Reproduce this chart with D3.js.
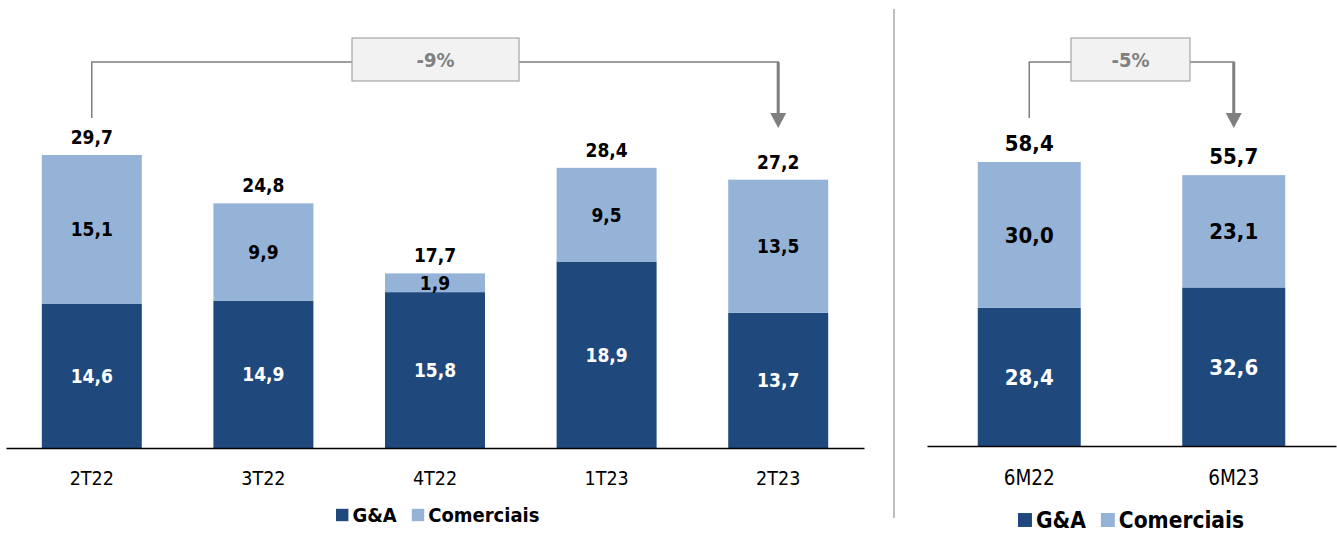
<!DOCTYPE html>
<html><head><meta charset="utf-8">
<script src="https://cdn.jsdelivr.net/npm/d3@7"></script>
<style>
html,body{margin:0;padding:0;background:#fff;}
svg{display:block;}
text{font-family:"DejaVu Sans Condensed","DejaVu Sans",sans-serif;}
</style></head>
<body>
<svg id="chart" width="1337" height="533"></svg>
<script>
// ---- data ----
const quarters = ["2T22","3T22","4T22","1T23","2T23"];
const gaQ = [14.6, 14.9, 15.8, 18.9, 13.7];
const comQ = [15.1, 9.9, 1.9, 9.5, 13.5];
const totalQ = [29.7, 24.8, 17.7, 28.4, 27.2];
const semesters = ["6M22","6M23"];
const gaS = [28.4, 32.6];
const comS = [30.0, 23.1];
const totalS = [58.4, 55.7];
const seriesNames = ["G&A","Comerciais"];
const changeQ = "-9%";
const changeS = "-5%";

const C_GA = "#1f497d", C_COM = "#95b3d7";
const fmt = v => d3.format(".1f")(v).replace(".", ",");

const svg = d3.select("#chart");

function panel(opt){
  const {cats, ga, com, tot, x0, x1, base, pxPerUnit, bw, valSize, catSize, catY, legX, legY, legSize, change, box} = opt;
  const x = d3.scaleBand().domain(cats).range([x0, x1]);
  const pi = 1 - bw / x.step();
  x.paddingInner(pi).paddingOuter(pi/2);
  const ymax = 70;
  const y = d3.scaleLinear().domain([0, ymax]).range([base, base - ymax*pxPerUnit]);
  const g = svg.append("g");
  const stack = cats.map((c,i)=>({c, ga:ga[i], com:com[i], tot:tot[i]}));
  // bars
  g.selectAll(".ga").data(stack).join("rect")
    .attr("x", d=>x(d.c)).attr("width", x.bandwidth())
    .attr("y", d=>y(d.ga)).attr("height", d=>y(0)-y(d.ga)).attr("fill", C_GA);
  g.selectAll(".com").data(stack).join("rect")
    .attr("x", d=>x(d.c)).attr("width", x.bandwidth())
    .attr("y", d=>y(d.ga+d.com)).attr("height", d=>y(d.ga)-y(d.ga+d.com)).attr("fill", C_COM);
  // axis
  const axis = d3.axisBottom(x).tickSize(0).tickPadding(0);
  const ax = g.append("g").attr("transform", `translate(0,${base})`).call(axis);
  ax.select(".domain").attr("stroke", "#000").attr("stroke-width", 1.5);
  ax.selectAll("text").attr("font-size", catSize).attr("fill", "#000")
    .attr("dy", "0.36em").attr("y", catY - base).attr("font-family", '"DejaVu Sans Condensed","DejaVu Sans",sans-serif');
  // inner labels
  g.selectAll(".lga").data(stack).join("text")
    .attr("x", d=>x(d.c)+x.bandwidth()/2).attr("y", d=>(y(0)+y(d.ga))/2)
    .attr("dy", "0.36em").attr("text-anchor","middle")
    .attr("font-size", valSize).attr("font-weight","bold").attr("fill","#fff")
    .text(d=>fmt(d.ga));
  g.selectAll(".lcom").data(stack).join("text")
    .attr("x", d=>x(d.c)+x.bandwidth()/2).attr("y", d=>(y(d.ga)+y(d.ga+d.com))/2)
    .attr("dy", "0.36em").attr("text-anchor","middle")
    .attr("font-size", valSize).attr("font-weight","bold").attr("fill","#000")
    .text(d=>fmt(d.com));
  g.selectAll(".ltot").data(stack).join("text")
    .attr("x", d=>x(d.c)+x.bandwidth()/2).attr("y", d=>y(d.tot)-11)
    .attr("text-anchor","middle")
    .attr("font-size", valSize).attr("font-weight","bold").attr("fill","#000")
    .text(d=>fmt(d.tot));
  // change connector
  const xs = x(cats[0]) + x.bandwidth()/2;
  const xe = x(cats[cats.length-1]) + x.bandwidth()/2;
  const ly = 62;
  g.append("path").attr("d", `M${xs},118V${ly}H${box[0]}`).attr("fill","none").attr("stroke","#7f7f7f").attr("stroke-width",1.5);
  g.append("path").attr("d", `M${box[1]},${ly}H${xe}V114`).attr("fill","none").attr("stroke","#7f7f7f").attr("stroke-width",1.5);
  g.append("path").attr("d", `M${xe},${ly}V114`).attr("fill","none").attr("stroke","#7f7f7f").attr("stroke-width",3);
  g.append("path").attr("d", `M${xe-8},113L${xe+8},113L${xe},128Z`).attr("fill","#7f7f7f");
  g.append("rect").attr("x", box[0]).attr("y", 38).attr("width", box[1]-box[0]).attr("height", 43)
    .attr("fill","#f2f2f2").attr("stroke","#a6a6a6").attr("stroke-width",1.2);
  g.append("text").attr("x",(box[0]+box[1])/2).attr("y", 60).attr("dy","0.36em").attr("text-anchor","middle")
    .attr("font-size",20).attr("font-weight","bold").attr("fill","#808080").text(change);
  // legend
  const lg = g.append("g").attr("transform", `translate(${legX},${legY})`);
  const sq = legSize*0.62;
  let cx = 0;
  seriesNames.forEach((n,i)=>{
    lg.append("rect").attr("x",cx).attr("y",-sq/2).attr("width",sq).attr("height",sq).attr("fill", i===0?C_GA:C_COM);
    const t = lg.append("text").attr("x",cx+sq+4).attr("y",0).attr("dy","0.36em")
      .attr("font-size",legSize).attr("font-weight","bold").attr("fill","#000").text(n);
    cx += sq + 4 + t.node().getComputedTextLength() + 15;
  });
}

panel({cats:quarters, ga:gaQ, com:comQ, tot:totalQ, x0:6, x1:864, base:448, pxPerUnit:9.865, bw:100,
  valSize:19, catSize:19.5, catY:478, legX:336, legY:515, legSize:20, change:changeQ, box:[352,519]});
panel({cats:semesters, ga:gaS, com:comS, tot:totalS, x0:927, x1:1336, base:446, pxPerUnit:4.863, bw:103,
  valSize:22, catSize:20.5, catY:478, legX:1018, legY:520, legSize:22.5, change:changeS, box:[1071,1190]});

// divider
svg.append("line").attr("x1",894).attr("x2",894).attr("y1",9).attr("y2",518).attr("stroke","#bfbfbf").attr("stroke-width",2);
</script>
</body></html>
